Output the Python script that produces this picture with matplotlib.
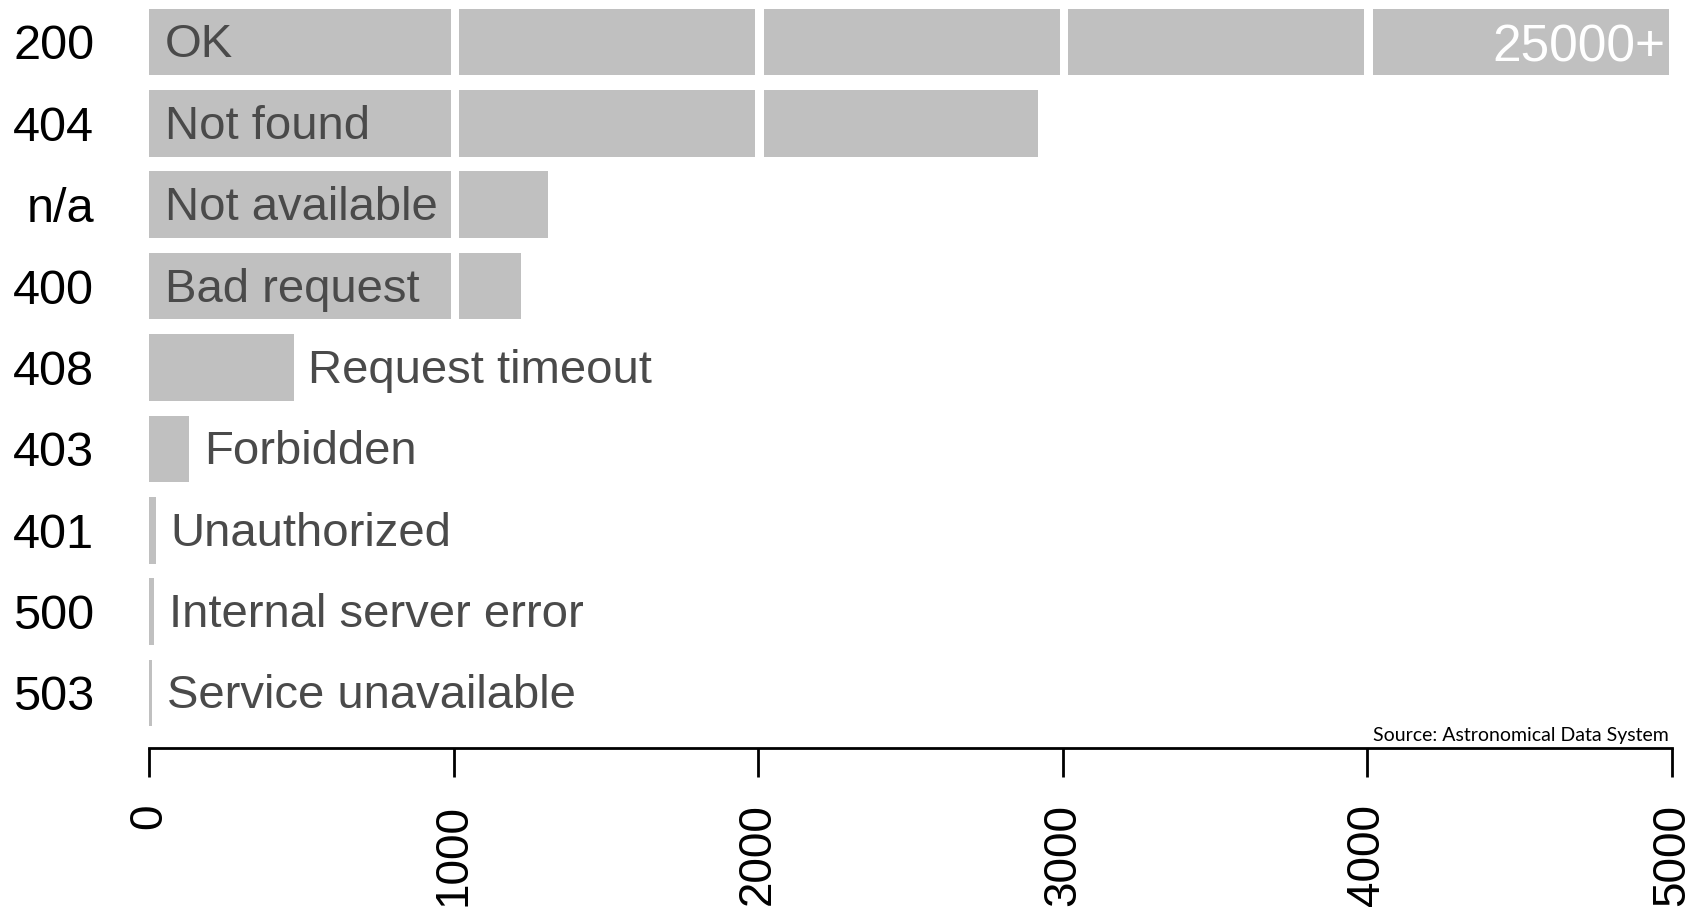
import numpy as np
import matplotlib.pyplot as plt

# status codes, descriptions and counts (200 is capped at the axis end)
codes = ["200", "404", "n/a", "400", "408", "403", "401", "500", "503"]
labels = ["OK", "Not found", "Not available", "Bad request", "Request timeout",
          "Forbidden", "Unauthorized", "Internal server error", "Service unavailable"]
counts = [25000, 2920, 1310, 1220, 475, 132, 22, 18, 10]
x_ticks = [0, 1000, 2000, 3000, 4000, 5000]

bar_color = "#c0c0c0"
text_color = "#4a4a4a"
x_max = 5000
chunk = 1000
gap_lo = 18      # white gap after each 1000 block
gap_hi = 10      # white gap before each 1000 block boundary

plt.rcParams["font.family"] = ["Liberation Sans", "DejaVu Sans"]

fig = plt.figure(figsize=(17.06, 9.17), dpi=100)
ax = fig.add_axes([149 / 1706, 1 - 748 / 917, 1523 / 1706, 748 / 917])

for i, (lab, val) in enumerate(zip(labels, counts)):
    shown = min(val, x_max)
    k = 0
    while k * chunk < shown:
        start = k * chunk + (gap_lo if k > 0 else 0)
        end = min(shown, (k + 1) * chunk - gap_hi)
        ax.barh(i, end - start, left=start, height=0.82, color=bar_color, linewidth=0)
        k += 1
    if val > chunk:
        ax.annotate(lab, (0, i), xytext=(11.5, -2.5), textcoords="offset points",
                    ha="left", va="center", fontsize=34, color=text_color)
    else:
        ax.annotate(lab, (shown, i), xytext=(10.5, -2.5), textcoords="offset points",
                    ha="left", va="center", fontsize=34, color=text_color)
    if val > x_max:
        ax.annotate(str(x_max * 5) + "+", (x_max, i), xytext=(-5, -4),
                    textcoords="offset points", ha="right", va="center",
                    fontsize=37, color="white")

ax.set_xlim(0, x_max)
ax.set_ylim(len(codes) - 1 + 0.676, -0.516)

ax.set_yticks(range(len(codes)))
ax.set_yticklabels(codes, fontsize=35, color="black")
ax.tick_params(axis="y", length=0, pad=39.5)

ax.set_xticks(x_ticks)
ax.set_xticklabels([str(t) for t in x_ticks], rotation=90, fontsize=33, va="top")
ax.tick_params(axis="x", length=21, width=2, pad=19, direction="out")

for side in ["top", "right", "left"]:
    ax.spines[side].set_visible(False)
ax.spines["bottom"].set_linewidth(2)

fig.text(1669 / 1706, 1 - 741 / 917, "Source: Astronomical Data System",
         ha="right", va="baseline", fontsize=14, family="Lato", color="black")

fig.savefig("out.png", dpi=100, facecolor="white")
